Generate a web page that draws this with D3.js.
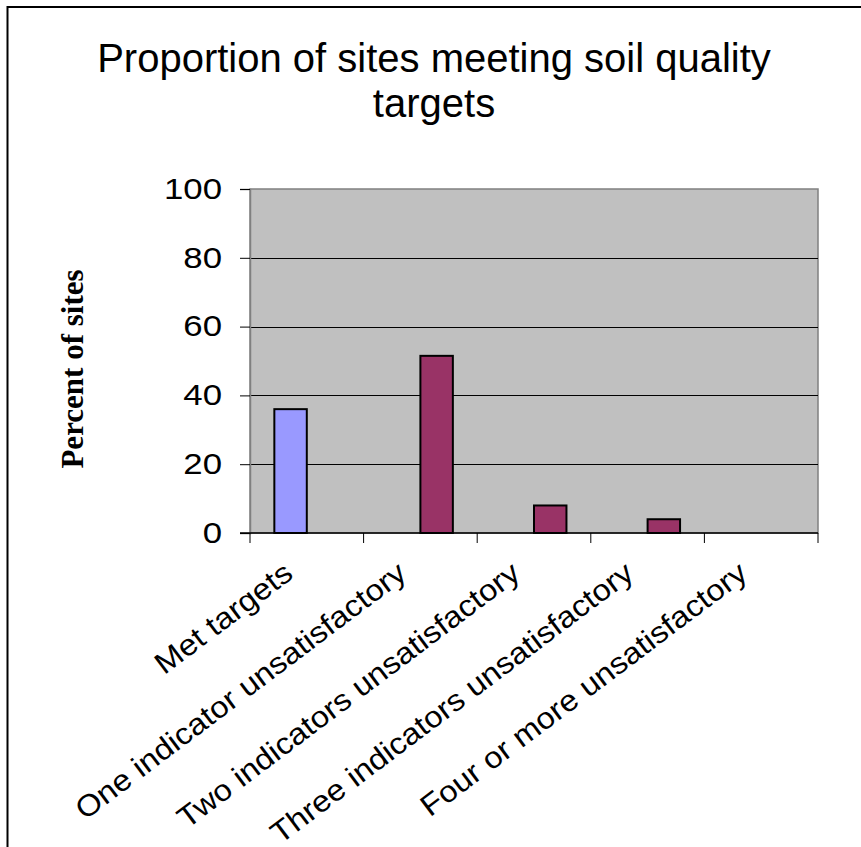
<!DOCTYPE html>
<html>
<head>
<meta charset="utf-8">
<script src="https://cdn.jsdelivr.net/npm/d3@7"></script>
<style>
  html, body { margin: 0; padding: 0; background: #fff; }
  svg { display: block; }
</style>
</head>
<body>
<svg id="chart" width="861" height="847"></svg>
<script>
// ---- data ----
const categories = [
  "Met targets",
  "One indicator unsatisfactory",
  "Two indicators unsatisfactory",
  "Three indicators unsatisfactory",
  "Four or more unsatisfactory"
];
const seriesNames = ["Met targets", "Unsatisfactory"];
const metTargets = [36, 0, 0, 0, 0];
const unsatisfactory = [0, 51.5, 8, 4, 0];
const yTicks = [0, 20, 40, 60, 80, 100];
const titleLines = ["Proportion of sites meeting soil quality", "targets"];
const yTitle = "Percent of sites";

// ---- layout ----
const plot = { left: 250, right: 818, top: 189, bottom: 533 };
const colors = { "Met targets": "#9999FF", "Unsatisfactory": "#993366" };
const stretchY = 1.2;
const stretchX = 1.09;

const svg = d3.select("#chart");

// outer chart border (extends beyond the visible area on right/bottom)
svg.append("rect")
  .attr("x", 7.5).attr("y", 7)
  .attr("width", 900).attr("height", 900)
  .attr("fill", "none").attr("stroke", "#000").attr("stroke-width", 2);

// title
const title = svg.append("text")
  .attr("text-anchor", "middle")
  .attr("font-family", "Liberation Sans, Arial, sans-serif")
  .attr("font-size", 40)
  .attr("fill", "#000");
titleLines.forEach((t, i) => {
  title.append("tspan").attr("x", 434).attr("y", 72 + i * 45).text(t);
});

// scales
const x = d3.scaleBand().domain(categories).range([plot.left, plot.right]).paddingInner(0).paddingOuter(0);
const xs = d3.scaleBand().domain(seriesNames).range([0, x.bandwidth()]).paddingInner(0).paddingOuter(0.75);
const y = d3.scaleLinear().domain([0, 100]).range([plot.bottom, plot.top]);

// plot background
svg.append("rect")
  .attr("x", plot.left).attr("y", plot.top)
  .attr("width", plot.right - plot.left).attr("height", plot.bottom - plot.top)
  .attr("fill", "#C0C0C0").attr("stroke", "#808080").attr("stroke-width", 1.5);

// gridlines
svg.append("g").selectAll("line")
  .data(yTicks.filter(v => v > 0 && v < 100))
  .join("line")
  .attr("x1", plot.left).attr("x2", plot.right)
  .attr("y1", d => Math.round(y(d)) + 0.5).attr("y2", d => Math.round(y(d)) + 0.5)
  .attr("stroke", "#000").attr("stroke-width", 1);

// bars
const rows = categories.map((c, i) => ({ cat: c, values: [
  { s: seriesNames[0], v: metTargets[i] },
  { s: seriesNames[1], v: unsatisfactory[i] }
]}));

const groups = svg.append("g").selectAll("g")
  .data(rows).join("g")
  .attr("transform", d => `translate(${x(d.cat)},0)`);

groups.selectAll("rect")
  .data(d => d.values.filter(e => e.v > 0))
  .join("rect")
  .attr("x", d => xs(d.s))
  .attr("width", xs.bandwidth())
  .attr("y", d => y(d.v))
  .attr("height", d => y(0) - y(d.v))
  .attr("fill", d => colors[d.s])
  .attr("stroke", "#000").attr("stroke-width", 2);

// y axis
const yAxis = svg.append("g")
  .attr("transform", `translate(${plot.left},0)`)
  .call(d3.axisLeft(y).tickValues(yTicks).tickSize(10).tickPadding(17).tickFormat(d3.format("d")));
yAxis.select(".domain").attr("stroke", "#808080").attr("stroke-width", 1.5);
yAxis.selectAll(".tick line").attr("stroke", "#000");
yAxis.selectAll(".tick text")
  .attr("font-family", "Liberation Sans, Arial, sans-serif")
  .attr("font-size", 29).attr("fill", "#000")
  .attr("x", -28 / stretchY)
  .attr("transform", `scale(${stretchY},1)`);

// x axis
const boundaries = categories.map(c => x(c)).concat([plot.right]);
const xAxisG = svg.append("g");
xAxisG.append("line")
  .attr("x1", plot.left - 10).attr("x2", plot.right)
  .attr("y1", plot.bottom).attr("y2", plot.bottom)
  .attr("stroke", "#000").attr("stroke-width", 1.5);
xAxisG.selectAll("line.tk").data(boundaries).join("line").attr("class", "tk")
  .attr("x1", d => d).attr("x2", d => d)
  .attr("y1", plot.bottom).attr("y2", plot.bottom + 10)
  .attr("stroke", "#000").attr("stroke-width", 1);

xAxisG.selectAll("text").data(categories).join("text")
  .attr("text-anchor", "end")
  .attr("font-family", "Liberation Sans, Arial, sans-serif")
  .attr("font-size", 30)
  .attr("fill", "#000")
  .attr("transform", d => `translate(${x(d) + x.bandwidth() / 2 - 12},${plot.bottom + 44}) rotate(-37) scale(${stretchX},1)`)
  .text(d => d);

// y title
svg.append("text")
  .attr("text-anchor", "middle")
  .attr("font-family", "Liberation Serif, Times New Roman, serif")
  .attr("font-weight", "bold")
  .attr("font-size", 31)
  .attr("fill", "#000")
  .attr("transform", "translate(83,369) rotate(-90)")
  .text(yTitle);
</script>
</body>
</html>
